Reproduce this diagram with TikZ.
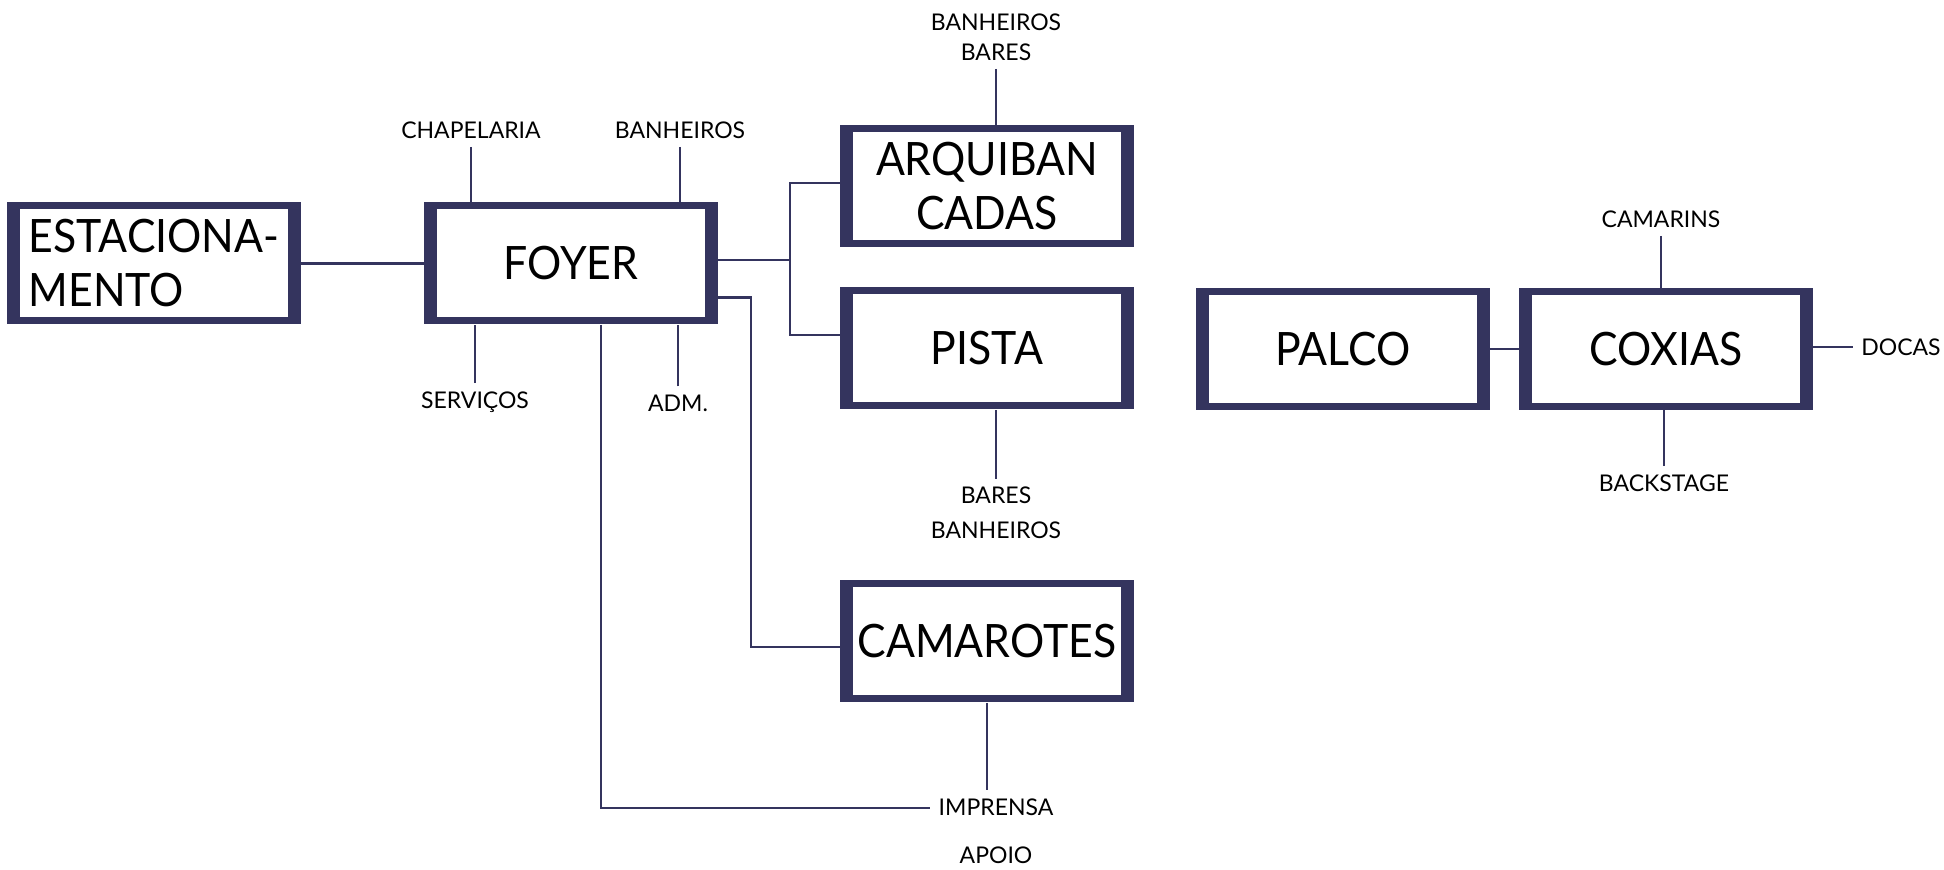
\documentclass[tikz,border=0pt]{standalone}
\usepackage{fontspec}
\setmainfont{Lato}
\newfontfamily\boxfont[FakeStretch=0.93]{Lato}
\definecolor{navy}{RGB}{52,52,94}
\begin{document}
\begin{tikzpicture}[x=0.5pt,y=-0.5pt,
  room/.style={minimum width=147pt,minimum height=61pt,inner sep=0pt,fill=navy,
    font=\boxfont\fontsize{23}{27}\selectfont,text=black,
    path picture={\fill[white] ([xshift=6.5pt,yshift=3.5pt]path picture bounding box.south west) rectangle ([xshift=-6.5pt,yshift=-3.5pt]path picture bounding box.north east);}},
  lbl/.style={font=\fontsize{11.5}{15}\selectfont,text=black,inner sep=4pt,align=center},
  link/.style={draw=navy,line width=1.4pt}]
\useasboundingbox (0,0) rectangle (1944,870);
% rooms
\node[room,align=left] (est) at (154,263.5) {ESTACIONA-\\MENTO};
\node[room] (foyer) at (571,263.5) {FOYER};
\node[room,align=center] (arq) at (987,186.5) {ARQUIBAN\\CADAS};
\node[room] (pista) at (987,348.5) {PISTA};
\node[room] (cam) at (987,641.5) {CAMAROTES};
\node[room] (palco) at (1343,349) {PALCO};
\node[room] (coxias) at (1666,349) {COXIAS};
% labels
\node[lbl] (arqtop) at (996,37) {BANHEIROS\\BARES};
\node[lbl] (chap) at (471,130) {CHAPELARIA};
\node[lbl] (banf) at (680,130) {BANHEIROS};
\node[lbl] (serv) at (475,402) {SERVIÇOS};
\node[lbl] (adm) at (678,403) {ADM.};
\node[lbl,font=\fontsize{11.5}{17.5}\selectfont] (pistabot) at (996,513) {BARES\\BANHEIROS};
\node[lbl] (imp) at (996,807) {IMPRENSA};
\node[lbl] (apoio) at (996,855) {APOIO};
\node[lbl] (camarins) at (1661,219) {CAMARINS};
\node[lbl] (back) at (1664,483) {BACKSTAGE};
\node[lbl] (docas) at (1901,347) {DOCAS};
% junctions
\coordinate (ja) at (790,183);
\coordinate (jb) at (790,335);
\coordinate (jm) at (790,260);
\coordinate (jc) at (751,297.5);
\coordinate (jd) at (751,647);
\coordinate (je) at (601,808);
% connectors
\draw[link] (est.east) -- (foyer.west);
\draw[link] (foyer.east |- jm) -- (jm);
\draw[link] (arq.west |- ja) -- (ja) -- (jb) -- (pista.west |- jb);
\draw[link] (foyer.east |- jc) -- (jc) -- (jd) -- (cam.west |- jd);
\draw[link] (foyer.south -| je) -- (je) -- (imp.west |- je);
\draw[link] (chap.south) -- (chap.south |- foyer.north);
\draw[link] (banf.south) -- (banf.south |- foyer.north);
\draw[link] (serv.north) -- (serv.north |- foyer.south);
\draw[link] (adm.north) -- (adm.north |- foyer.south);
\draw[link] (arqtop.south) -- (arqtop.south |- arq.north);
\draw[link] (pistabot.north) -- (pistabot.north |- pista.south);
\draw[link] (cam.south) -- (cam.south |- imp.north);
\draw[link] (palco.east) -- (coxias.west);
\draw[link] (camarins.south) -- (camarins.south |- coxias.north);
\draw[link] (back.north) -- (back.north |- coxias.south);
\draw[link] (coxias.east |- docas.west) -- (docas.west);
\end{tikzpicture}
\end{document}
